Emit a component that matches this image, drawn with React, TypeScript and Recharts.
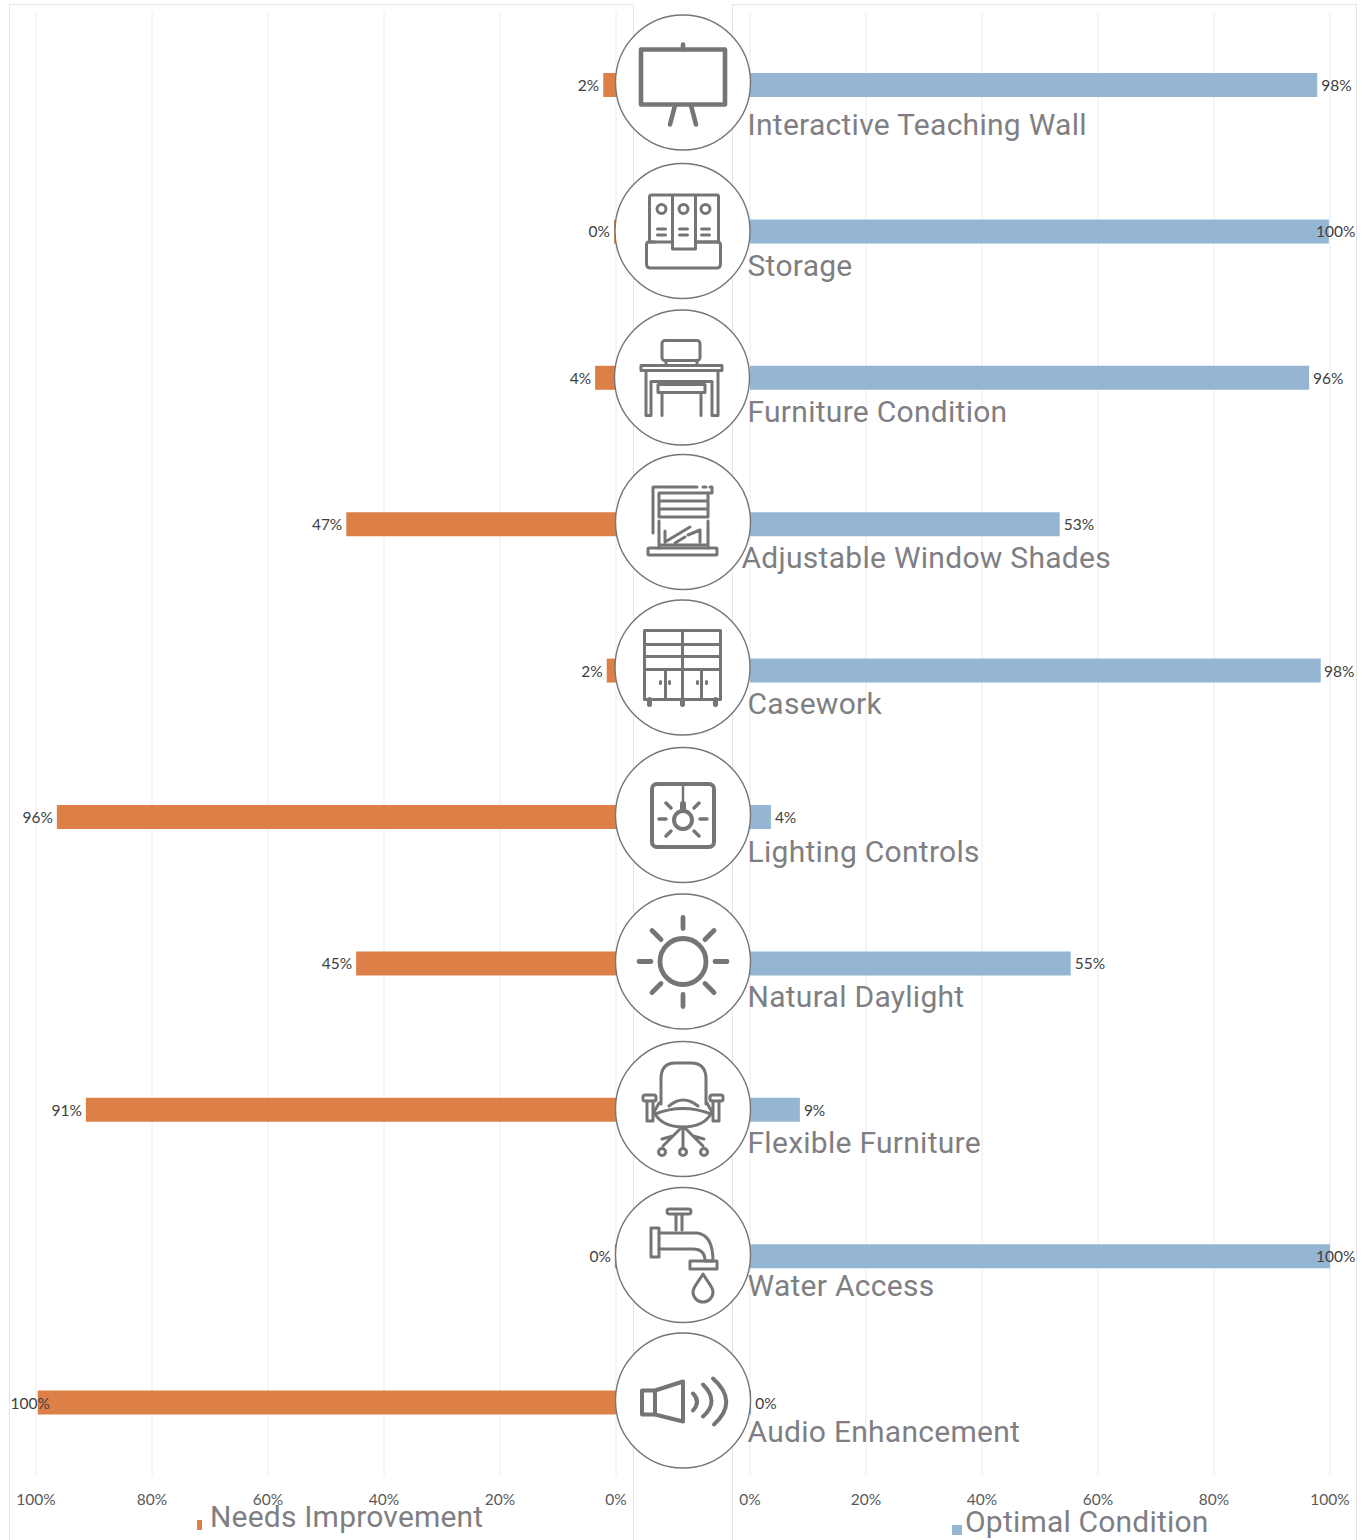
import React from 'react'
import { BarChart, Bar, XAxis, YAxis, CartesianGrid, LabelList, Legend } from 'recharts'

const CATEGORIES = [
  'Interactive Teaching Wall',
  'Storage',
  'Furniture Condition',
  'Adjustable Window Shades',
  'Casework',
  'Lighting Controls',
  'Natural Daylight',
  'Flexible Furniture',
  'Water Access',
  'Audio Enhancement',
]
const NEEDS_IMPROVEMENT = [2.2, 0.35, 3.6, 46.5, 1.6, 96.4, 44.8, 91.4, 0.2, 99.7]
const OPTIMAL_CONDITION = [97.8, 99.8, 96.4, 53.4, 98.4, 3.6, 55.3, 8.6, 100, 0.2]
const TICKS = [0, 20, 40, 60, 80, 100]

// the category captions were placed by hand in the original, so they don't sit evenly
const CAPTION_DY = [39, 34, 33, 33, 33, 34, 33, 32, 29, 29]
const CAPTION_DX = [0, 0, 0, -6, 0, 0, 0, 0, 0, 0]

const ORANGE = '#dd8047'
const BLUE = '#94b6d2'
const ICON = '#757575'
const GRID = '#ececec'
const FRAME = '#e6e6e6'
const LEFT_W = 623
const RIGHT_W = 623
const CHART_H = 1535

const leftData = CATEGORIES.map((name, i) => ({ name, value: NEEDS_IMPROVEMENT[i] }))
const rightData = CATEGORIES.map((name, i) => ({ name, value: OPTIMAL_CONDITION[i] }))

const pct = (v: number) => `${v}%`
const labelWidth = (s: string) => (s.length === 4 ? 39 : s.length === 3 ? 31 : 22)

function LeftLabel({ x, y, width, height, value }: any) {
  const s = `${Math.round(value)}%`
  const edge = Math.min(x, x + width)
  return (
    <text x={Math.max(edge - 4, 1 + labelWidth(s))} y={y + height / 2} textAnchor="end" dominantBaseline="central"
      fontFamily="Lato" fontSize={15.5} fill="#404040">{s}</text>
  )
}

function RightLabel({ x, y, width, height, value }: any) {
  const s = `${Math.round(value)}%`
  const edge = Math.max(x, x + width)
  return (
    <text x={Math.min(edge + 4, RIGHT_W - 1 - labelWidth(s))} y={y + height / 2} textAnchor="start" dominantBaseline="central"
      fontFamily="Lato" fontSize={15.5} fill="#404040">{s}</text>
  )
}

function CaptionTick({ x, y, payload, index }: any) {
  return (
    <text x={x + 5.5 + CAPTION_DX[index]} y={y + CAPTION_DY[index]} dominantBaseline="central"
      fontFamily="Roboto" fontSize={30} letterSpacing={0.28} fill="#7f7f83">{payload.value}</text>
  )
}

function LegendBox({ payload }: any) {
  const item = payload && payload[0]
  if (!item) return null
  return (
    <div style={{ position: 'relative', height: 40 }}>
      <span style={{ position: 'absolute', left: 0, top: 21, width: item.color === ORANGE ? 5 : 10, height: 10, background: item.color }} />
      <span style={{
        position: 'absolute', left: 13, top: 0, whiteSpace: 'nowrap', letterSpacing: 0.2,
        fontFamily: 'Roboto', fontSize: 30, lineHeight: '36px', color: '#7f7f83',
      }}>{item.value}</span>
    </div>
  )
}

const tickStyle = { fontFamily: 'Lato', fontSize: 15.5, fill: '#595959' }

function Circle({ cx, cy, children }: { cx: number; cy: number; children: React.ReactNode }) {
  return (
    <g transform={`translate(${cx} ${cy})`}>
      <circle r={67.5} fill="#fff" stroke={ICON} strokeWidth={1.4} />
      <g fill="none" stroke={ICON} strokeWidth={3} strokeLinecap="round" strokeLinejoin="round">{children}</g>
    </g>
  )
}

function Icons() {
  return (
    <svg width={1362} height={1540} style={{ position: 'absolute', left: 0, top: 0, pointerEvents: 'none' }}>
      {/* teaching wall */}
      <Circle cx={683} cy={82.5}>
        <g strokeWidth={4.6}>
          <rect x={-42} y={-33} width={84} height={55} />
          <path d="M0 -38V-33M-8 23L-13 42M8 23L13 42" />
        </g>
      </Circle>
      {/* storage */}
      <Circle cx={682.5} cy={231}>
        <path d="M-10 11H-33V-34Q-33 -36 -31 -36H35Q36 -36 36 -34V11H13M-10 -36V18H13V-36" />
        <path d="M-28 11H-34Q-36 11 -36 14V33Q-36 37 -32 37H34Q38 37 38 33V14Q38 11 35 11H13" />
        <circle cx={-21} cy={-22} r={4.5} /><circle cx={1} cy={-22} r={4.5} /><circle cx={23} cy={-22} r={4.5} />
        <path d="M-25 -2H-17M-25 4H-17M-3 -2H5M-3 4H5M19 -2H27M19 4H27" />
      </Circle>
      {/* desk */}
      <Circle cx={682} cy={377.5}>
        <rect x={-20} y={-37} width={38} height={20} rx={3} />
        <path d="M-16 -17V-12M15 -17V-12" />
        <rect x={-41} y={-12} width={81} height={5} />
        <path d="M-36 -7V38H-31V4H30V38H36V-7" />
        <rect x={-24} y={7} width={47} height={8} />
        <path d="M-20 15V38M19 15V38" />
      </Circle>
      {/* window shades */}
      <Circle cx={683} cy={522}>
        <path d="M-30 11V-35H14M20 -35H23M27 -35H29V-29H-24V-5H25V-29M-24 -21H25M-24 -13H25" />
        <path d="M-24 -1V26M25 -1V26M-24 23H25M-18 20L7 5M-18 9V20M-8 21L2 15M5 13L17 8V20" />
        <rect x={-35} y={26} width={69} height={7} rx={1} />
      </Circle>
      {/* casework */}
      <Circle cx={682.5} cy={667.5}>
        <rect x={-38} y={-37} width={76} height={69} />
        <path d="M0 -37V32M-38 -23H38M-38 -11H38M-38 2H38M-17 2V32M19 2V32" />
        <path d="M-22 14V16M-13 14V16M15 14V16M24 14V16" />
        <path d="M-33 32V37M0 32V37M33 32V37" strokeWidth={5} />
      </Circle>
      {/* lighting controls */}
      <Circle cx={683} cy={815}>
        <g strokeWidth={4}>
          <rect x={-31} y={-31} width={62} height={63} rx={5} />
          <circle cx={0} cy={5} r={9} />
          <path d="M0 -31V-5" strokeWidth={2.5} />
          <path d="M0 -11V-5" strokeWidth={6} />
          <path d="M-24 4H-17M17 4H24M-17 -12L-12 -7M16 -12L11 -7M-17 21L-12 16M16 21L11 16" strokeWidth={3.5} />
        </g>
      </Circle>
      {/* daylight */}
      <Circle cx={683} cy={961.5}>
        <circle r={23} strokeWidth={4.8} />
        <path d="M0 -44V-33M0 33V45M-44 0H-32M32 0H44M-31 -31L-22 -22M31 -31L22 -22M-31 31L-22 22M31 31L22 22" strokeWidth={4.8} />
      </Circle>
      {/* chair */}
      <Circle cx={683} cy={1109}>
        <path d="M-22 -5V-30Q-22 -46 -8 -46H8Q23 -46 23 -30V-5M-14 -3Q0 -15 15 -3" />
        <path d="M-28 5Q0 -6 28 5Q20 18 0 18Q-20 18 -28 5Z" />
        <rect x={-40} y={-14} width={13} height={6} rx={2} />
        <rect x={27} y={-14} width={13} height={6} rx={2} />
        <path d="M-36 -8V12H-30V-8M30 -8V12H36V-8M-30 5L-24 -6M30 5L24 -6" />
        <path d="M0 18V39M-3 20L-20 37M3 20L20 37M-10 27L-21 30M10 27L21 30" />
        <circle cx={-21} cy={43} r={3.5} /><circle cx={0} cy={43} r={3.5} /><circle cx={21} cy={43} r={3.5} />
      </Circle>
      {/* faucet */}
      <Circle cx={683} cy={1255}>
        <rect x={-16} y={-46} width={24} height={5} rx={2.5} />
        <path d="M-7 -40V-25M-1 -40V-25" />
        <rect x={-32} y={-27} width={8} height={29} />
        <path d="M-24 -22H14Q30 -20 30 6H22Q22 -6 10 -6H-24" />
        <rect x={7} y={6} width={27} height={8} />
        <path d="M20 19C14 29 10 32 10 37A10 10 0 0 0 30 37C30 32 26 29 20 19Z" />
      </Circle>
      {/* speaker */}
      <Circle cx={683} cy={1400.5}>
        <path d="M-41 -10H-28L0 -19V21L-28 14H-41ZM-28 -10V14" strokeWidth={4} />
        <path d="M10 -7Q18 1 10 10M20 -16Q37 1 20 16M30 -22Q56 1 31 24" strokeWidth={4} />
      </Circle>
    </svg>
  )
}

export default function App() {
  const frame = (left: number, width: number): React.CSSProperties => ({
    position: 'absolute', left, top: 4, width, height: 1536, boxSizing: 'border-box',
    borderTop: `1px solid ${FRAME}`, borderLeft: `1px solid ${FRAME}`, borderRight: `1px solid ${FRAME}`,
  })
  return (
    <div style={{ position: 'absolute', left: 0, top: 0, width: 1362, height: 1540, overflow: 'hidden', background: '#fff' }}>
      <div style={frame(9, 625)}>
        <BarChart width={LEFT_W} height={CHART_H} data={leftData} layout="vertical"
          margin={{ top: 7, right: 17, bottom: 0, left: 26 }}>
          <CartesianGrid horizontal={false} stroke={GRID} />
          <XAxis type="number" domain={[0, 100]} ticks={TICKS} reversed tickFormatter={pct} interval={0}
            height={64} axisLine={false} tickLine={false} tick={tickStyle} tickMargin={12} />
          <YAxis type="category" dataKey="name" hide />
          <Legend layout="horizontal" verticalAlign="middle" align="center" content={LegendBox}
            wrapperStyle={{ left: 187, top: 1494, width: 320, height: 40 }} />
          <Bar dataKey="value" name="Needs Improvement" fill={ORANGE} barSize={24} isAnimationActive={false}>
            <LabelList dataKey="value" content={LeftLabel} />
          </Bar>
        </BarChart>
      </div>
      <div style={frame(732, 625)}>
        <BarChart width={RIGHT_W} height={CHART_H} data={rightData} layout="vertical"
          margin={{ top: 7, right: 26, bottom: 0, left: 16 }}>
          <CartesianGrid horizontal={false} stroke={GRID} />
          <XAxis type="number" domain={[0, 100]} ticks={TICKS} tickFormatter={pct} interval={0}
            height={64} axisLine={false} tickLine={false} tick={tickStyle} tickMargin={12} />
          <YAxis type="category" dataKey="name" width={1} axisLine={false} tickLine={false} tick={CaptionTick} interval={0} />
          <Legend layout="horizontal" verticalAlign="middle" align="center" content={LegendBox}
            wrapperStyle={{ left: 219, top: 1499, width: 320, height: 40 }} />
          <Bar dataKey="value" name="Optimal Condition" fill={BLUE} barSize={24} isAnimationActive={false}>
            <LabelList dataKey="value" content={RightLabel} />
          </Bar>
        </BarChart>
      </div>
      <Icons />
    </div>
  )
}
